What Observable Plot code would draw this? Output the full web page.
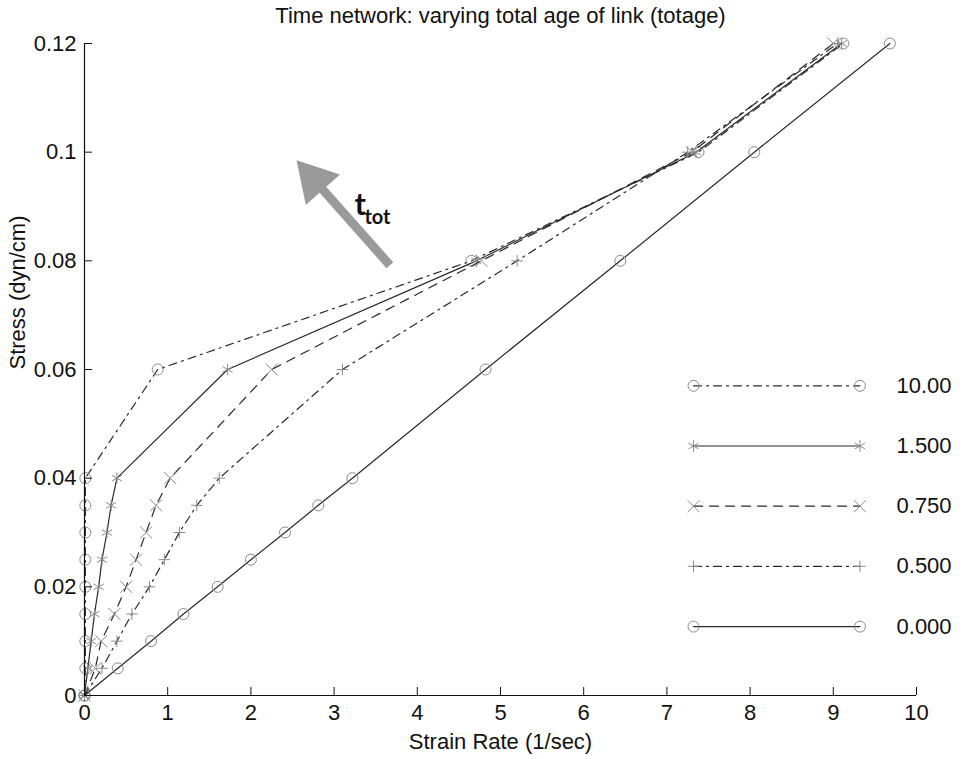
<!DOCTYPE html>
<html>
<head>
<meta charset="utf-8">
<script src="https://cdn.jsdelivr.net/npm/d3@7"></script>
<script src="https://cdn.jsdelivr.net/npm/@observablehq/plot@0.6"></script>
<style>
  body { margin: 0; background: #fff; }
  #chart svg { display: block; }
</style>
</head>
<body>
<div id="chart"></div>
<script>
// Stress levels shared by every run (dyn/cm)
const stress = [0, 0.005, 0.01, 0.015, 0.02, 0.025, 0.03, 0.035, 0.04, 0.06, 0.08, 0.1, 0.12];

// Strain rate (1/sec) reached at each stress level, one array per total link age
const rateAge10   = [0, 0.01, 0.01, 0.01, 0.01, 0.01, 0.01, 0.01, 0.01, 0.88, 4.65, 7.38, 9.12];
const rateAge1_5  = [0, 0.04, 0.08, 0.12, 0.17, 0.21, 0.27, 0.32, 0.39, 1.72, 4.71, 7.35, 9.10];
const rateAge0_75 = [0, 0.13, 0.20, 0.36, 0.50, 0.62, 0.74, 0.86, 1.03, 2.25, 4.77, 7.30, 9.00];
const rateAge0_5  = [0, 0.21, 0.39, 0.57, 0.78, 0.96, 1.14, 1.35, 1.62, 3.10, 5.20, 7.25, 9.05];
const rateAge0    = [0, 0.40, 0.80, 1.19, 1.60, 2.00, 2.41, 2.81, 3.22, 4.82, 6.44, 8.05, 9.68];

// Legend entries, top to bottom
const seriesLabels = ["10.00", "1.500", "0.750", "0.500", "0.000"];

// Axis ticks
const xTicks = [0, 1, 2, 3, 4, 5, 6, 7, 8, 9, 10];
const yTicks = [0, 0.02, 0.04, 0.06, 0.08, 0.1, 0.12];
const yTickLabels = ["0", "0.02", "0.04", "0.06", "0.08", "0.1", "0.12"];

// Text
const titleText = "Time network: varying total age of link (totage)";
const xLabel = "Strain Rate (1/sec)";
const yLabel = "Stress (dyn/cm)";
const arrowBase = "t";
const arrowSub = "tot";

// Annotation arrow (data units): tail and centre of the head
const arrowTail = [3.67, 0.0792];
const arrowHead = [2.76, 0.0949];

const rates = [rateAge10, rateAge1_5, rateAge0_75, rateAge0_5, rateAge0];
const looks = [
  {symbol: "circle",   dash: "8,5,2,5", r: 5.5},
  {symbol: "asterisk", dash: null,      r: 5.5},
  {symbol: "times",    dash: "9,7",     r: 5.5},
  {symbol: "plus",     dash: "8,5,2,5", r: 3.8},
  {symbol: "circle",   dash: null,      r: 5.5}
];

const series = seriesLabels.map((label, i) => ({
  label,
  ...looks[i],
  rows: stress.map((s, j) => ({x: rates[i][j], y: s}))
}));

// Legend layout inside the axes (data units)
const legendTop = 0.0570, legendStep = 0.01108, legendX1 = 7.32, legendX2 = 9.32, legendTextX = 9.76;

const font = "'Liberation Sans', Arial, Helvetica, sans-serif";
const lineColor = "#2a2a2a";
const markColor = "#8a8a8a";

const marks = [];

series.forEach((s, i) => {
  marks.push(Plot.line(s.rows, {x: "x", y: "y", stroke: lineColor, strokeWidth: 1.2, strokeDasharray: s.dash}));
  marks.push(Plot.dot(s.rows, {x: "x", y: "y", symbol: s.symbol, r: s.r, fill: "none", stroke: markColor, strokeWidth: 1}));
  const ly = legendTop - i * legendStep;
  const legendRows = [{x: legendX1, y: ly}, {x: legendX2, y: ly}];
  marks.push(Plot.line(legendRows, {x: "x", y: "y", stroke: lineColor, strokeWidth: 1.2, strokeDasharray: s.dash}));
  marks.push(Plot.dot(legendRows, {x: "x", y: "y", symbol: s.symbol, r: s.r, fill: "none", stroke: markColor, strokeWidth: 1}));
  marks.push(Plot.text([s.label], {x: legendTextX, y: ly, text: d => d, textAnchor: "start", fontSize: 22, fill: "#111"}));
});

// Axis lines (left and bottom only)
marks.push(Plot.ruleY([0], {stroke: "#111", strokeWidth: 1.2}));
marks.push(Plot.ruleX([0], {stroke: "#111", strokeWidth: 1.2}));

// Inward ticks
marks.push(Plot.axisX({ticks: xTicks, tickSize: -8, tickPadding: 17, fontSize: 22, label: null, stroke: "#111", fill: "#111"}));
marks.push(Plot.axisY({ticks: yTicks, tickFormat: (d, i) => yTickLabels[yTicks.indexOf(d)], tickSize: -8, tickPadding: 16, fontSize: 22, label: null, stroke: "#111", fill: "#111"}));

// Grey arrow showing the direction of increasing total age
const angle = Math.atan2(-(arrowHead[0] - arrowTail[0]) * 83.2, (arrowHead[1] - arrowTail[1]) * 5417) * 180 / Math.PI;
marks.push(Plot.link([0], {x1: () => arrowTail[0], y1: () => arrowTail[1], x2: () => arrowHead[0], y2: () => arrowHead[1], stroke: "#9a9a9a", strokeWidth: 9}));
marks.push(Plot.dot([0], {x: () => arrowHead[0], y: () => arrowHead[1], symbol: "triangle", r: 17, fill: "#9a9a9a", stroke: "none", rotate: -angle}));
marks.push(Plot.text([arrowBase], {x: () => 3.245, y: () => 0.0884, text: d => d, textAnchor: "start", lineAnchor: "bottom", fontFamily: "Lato, 'Open Sans', sans-serif", fontWeight: "bold", fontSize: 31, fill: "#111"}));
marks.push(Plot.text([arrowSub], {x: () => 3.365, y: () => 0.0868, text: d => d, textAnchor: "start", lineAnchor: "bottom", fontFamily: "Lato, 'Open Sans', sans-serif", fontWeight: "bold", fontSize: 20, fill: "#111"}));

// Title and axis labels
marks.push(Plot.text([titleText], {frameAnchor: "top", dy: -21, lineAnchor: "bottom", text: d => d, fontSize: 22, fill: "#111"}));
marks.push(Plot.text([xLabel], {frameAnchor: "bottom", dy: 53, lineAnchor: "bottom", text: d => d, fontSize: 22, fill: "#111"}));
marks.push(Plot.text([yLabel], {frameAnchor: "left", dx: -67, rotate: -90, text: d => d, fontSize: 22, fill: "#111"}));

const chart = Plot.plot({
  width: 964,
  height: 759,
  marginLeft: 84,
  marginRight: 48,
  marginTop: 43,
  marginBottom: 64,
  style: {fontFamily: font, background: "#fff", overflow: "visible"},
  x: {domain: [0, 10]},
  y: {domain: [0, 0.12]},
  marks
});
document.getElementById("chart").appendChild(chart);
</script>
</body>
</html>
